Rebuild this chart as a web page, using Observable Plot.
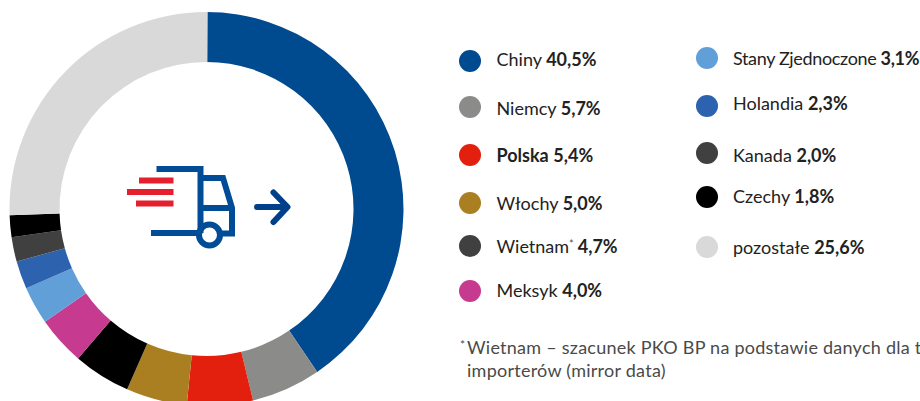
<!DOCTYPE html>
<html lang="pl">
<head>
<meta charset="utf-8">
<script src="https://cdn.jsdelivr.net/npm/d3@7"></script>
<script src="https://cdn.jsdelivr.net/npm/@observablehq/plot@0.6"></script>
<style>
  html, body { margin: 0; padding: 0; background: #fff; overflow: hidden; }
  #root { position: relative; width: 920px; height: 401px; overflow: hidden;
          font-family: "Lato", sans-serif; font-size: 18px; color: #222; }
  #chart svg { display: block; }
  .dot { position: absolute; width: 22px; height: 22px; border-radius: 50%; }
  .lab { position: absolute; white-space: nowrap; line-height: 22px; }
  .lab b { font-weight: 700; }
  .lab sup { font-size: 11px; line-height: 0; color: #555; vertical-align: 5px; margin-right: 4px; }
  #note { position: absolute; left: 467px; top: 336px; color: #4a4a4a; line-height: 23px; white-space: nowrap; font-size: 18px; letter-spacing: 0.25px; }
  #note .star { position: absolute; left: -7px; top: -3px; font-size: 12px; }
  #icon { position: absolute; left: 0; top: 0; }
</style>
</head>
<body>
<div id="root">
  <div id="chart"></div>
  <svg id="icon" width="920" height="401" fill="none">
    <g stroke="#004c97" stroke-width="6">
      <path d="M156.500 169H200.500V233"/>
      <path d="M200.500 178H223L232 208V233.500H220"/>
      <path d="M200.500 208H232"/>
      <path d="M151 233H199"/>
      <circle cx="209.500" cy="235" r="10.500"/>
    </g>
    <g stroke="#e5202e" stroke-width="6">
      <path d="M139 180.500H173.500"/>
      <path d="M127 192H173.500"/>
      <path d="M136 203.500H173.500"/>
    </g>
    <path d="M257 207H286M273.500 192.500L287.500 207L273.500 222" stroke="#003f8a" stroke-width="6" stroke-linecap="round" stroke-linejoin="round"/>
  </svg>
  <div id="legend"></div>
  <div id="note"><span class="star">*</span>Wietnam – szacunek PKO BP na podstawie danych dla t<br>importerów (mirror data)</div>
</div>
<script>
const names = ["Chiny","Niemcy","Polska","Włochy","Wietnam","Meksyk","Stany Zjednoczone","Holandia","Kanada","Czechy","pozostałe"];
const shares = [40.5,5.7,5.4,5.0,4.7,4.0,3.1,2.3,2.0,1.8,25.6];
const sliceColors = ["#004a90","#8b8b8a","#e3200d","#aa7f22","#000000","#c63a90","#619fd8","#2c62ae","#404040","#000000","#d9d9d9"];
const dotColors = ["#004a90","#8b8b8a","#e3200d","#aa7f22","#404040","#c63a90","#619fd8","#2c62ae","#404040","#000000","#d9d9d9"];
const labels = ["40,5%","5,7%","5,4%","5,0%","4,7%","4,0%","3,1%","2,3%","2,0%","1,8%","25,6%"];

const table = names.map((name, i) => ({name, share: shares[i]}));
const cx = 206.5, cy = 209, innerR = 147, outerR = 197;

const arc = d3.arc().innerRadius(innerR).outerRadius(outerR);
const plot = Plot.plot({
  width: 920, height: 401, margin: 0,
  style: {background: "transparent"},
  x: {domain: [0, 100], range: [0, 2 * Math.PI], axis: null},
  color: {domain: names, range: sliceColors},
  marks: [
    Plot.barX(table, Plot.stackX({
      x: "share", fill: "name", order: null, title: "name",
      render(index, scales, values) {
        const g = d3.create("svg:g").attr("transform", `translate(${cx},${cy})`);
        for (const i of index) {
          g.append("path")
            .attr("d", arc({startAngle: values.x1[i], endAngle: values.x2[i]}))
            .attr("fill", values.fill[i]);
        }
        return g.node();
      }
    }))
  ]
});
document.getElementById("chart").append(plot);

const dotPos = [
  [458.5,50],[458.5,96],[458.5,144],[458.5,192],[458.5,235],[458.5,280],
  [695.5,47],[695.5,95],[695.5,142],[695.5,186],[695.5,236]
];
const textPos = [
  [496.5,48],[496.5,97],[496.5,144],[496.5,192],[496.5,235],[496.5,279],
  [733,47],[733,92],[733,144],[733,185],[733,236]
];
const legend = document.getElementById("legend");
names.forEach((name, i) => {
  const dot = document.createElement("span");
  dot.className = "dot";
  dot.style.left = dotPos[i][0] + "px";
  dot.style.top = dotPos[i][1] + "px";
  dot.style.background = dotColors[i];
  const lab = document.createElement("span");
  lab.className = "lab";
  lab.style.left = textPos[i][0] + "px";
  lab.style.top = textPos[i][1] + "px";
  if (name === "Stany Zjednoczone") lab.style.letterSpacing = "-0.35px";
  const sep = name === "Wietnam" ? "<sup>*</sup>" : " ";
  const nm = name === "Polska" ? `<b>${name}</b>` : name;
  lab.innerHTML = `${nm}${sep}<b>${labels[i]}</b>`;
  legend.append(dot, lab);
});
</script>
</body>
</html>
